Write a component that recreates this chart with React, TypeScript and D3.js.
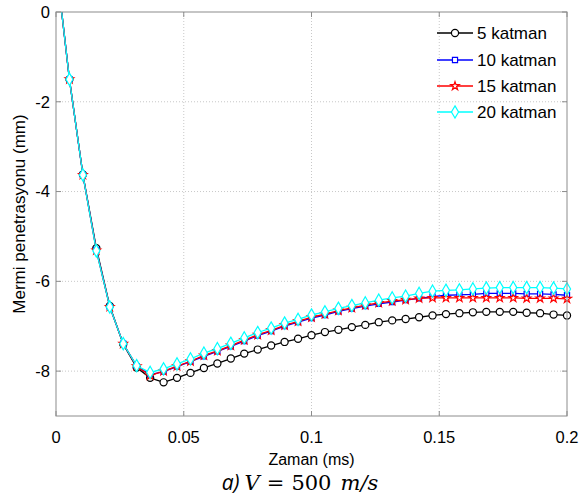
import React from "react";
import * as d3 from "d3";

const times = [0, 0.00526, 0.01053, 0.01579, 0.02105, 0.02632, 0.03158, 0.03684, 0.04211, 0.04737,
  0.05263, 0.05789, 0.06316, 0.06842, 0.07368, 0.07895, 0.08421, 0.08947, 0.09474, 0.1,
  0.10526, 0.11053, 0.11579, 0.12105, 0.12632, 0.13158, 0.13684, 0.14211, 0.14737, 0.15263,
  0.15789, 0.16316, 0.16842, 0.17368, 0.17895, 0.18421, 0.18947, 0.19474, 0.2];

const k5 = [1.1, -1.5, -3.62, -5.26, -6.55, -7.4, -7.92, -8.15, -8.25, -8.15,
  -8.04, -7.93, -7.83, -7.72, -7.61, -7.52, -7.43, -7.35, -7.28, -7.2,
  -7.13, -7.08, -7.02, -6.97, -6.91, -6.87, -6.84, -6.8, -6.76, -6.73,
  -6.71, -6.69, -6.68, -6.68, -6.68, -6.7, -6.71, -6.74, -6.76];
const k10 = [1.1, -1.5, -3.63, -5.3, -6.57, -7.39, -7.89, -8.08, -8.01, -7.9,
  -7.79, -7.67, -7.56, -7.45, -7.33, -7.21, -7.11, -7.0, -6.91, -6.82,
  -6.75, -6.67, -6.61, -6.55, -6.5, -6.46, -6.42, -6.38, -6.34, -6.31,
  -6.3, -6.29, -6.27, -6.27, -6.27, -6.28, -6.28, -6.29, -6.31];
const k15 = [1.1, -1.5, -3.63, -5.31, -6.57, -7.39, -7.89, -8.1, -8.0, -7.89,
  -7.78, -7.65, -7.55, -7.43, -7.31, -7.19, -7.09, -6.98, -6.89, -6.8,
  -6.73, -6.65, -6.59, -6.53, -6.48, -6.44, -6.41, -6.38, -6.37, -6.37,
  -6.37, -6.37, -6.37, -6.37, -6.37, -6.38, -6.38, -6.38, -6.39];
const k20 = [1.1, -1.5, -3.63, -5.32, -6.57, -7.39, -7.88, -8.03, -7.95, -7.84,
  -7.73, -7.6, -7.5, -7.38, -7.26, -7.14, -7.04, -6.93, -6.85, -6.75,
  -6.68, -6.6, -6.54, -6.48, -6.42, -6.37, -6.33, -6.27, -6.22, -6.2,
  -6.19, -6.17, -6.15, -6.14, -6.14, -6.14, -6.14, -6.15, -6.17];

const seriesNames = ["5 katman", "10 katman", "15 katman", "20 katman"];
const seriesColors = ["#000000", "#0000ff", "#ff0000", "#00ffff"];
const xTicks = [0, 0.05, 0.1, 0.15, 0.2];
const xTickLabels = ["0", "0.05", "0.1", "0.15", "0.2"];
const yTicks = [0, -2, -4, -6, -8];

const W = 587, H = 497;
const L = 56, R = 567, T = 12, B = 416;
const FONT = "'Liberation Sans', Arial, Helvetica, sans-serif";

const symbols = [d3.symbolCircle, d3.symbolSquare, d3.symbolStar, d3.symbolDiamond];
const symSizes = [40, 26, 22, 44];

export default function App() {
  const x = d3.scaleLinear().domain([0, 0.2]).range([L, R]);
  const y = d3.scaleLinear().domain([-9, 0]).range([B, T]);
  const data = [k5, k10, k15, k20];
  const line = d3.line<number>().x((_, i) => x(times[i])).y((v) => y(v));
  const gridColor = "#c8c8c8";
  const axisColor = "#8c8c8c";
  const legendRows = [33, 60, 86, 112];

  return (
    <svg width={W} height={H} style={{ position: "absolute", left: 0, top: 0, background: "#fff" }}>
      <defs>
        <clipPath id="plotclip">
          <rect x={L} y={T} width={R - L + 6} height={B - T} />
        </clipPath>
      </defs>
      <rect x={0} y={0} width={W} height={H} fill="#fff" />
      {xTicks.slice(1, -1).map((t) => (
        <line key={"gx" + t} x1={x(t)} x2={x(t)} y1={T} y2={B} stroke={gridColor} strokeWidth={1} strokeDasharray="1,2" />
      ))}
      {yTicks.slice(1).map((t) => (
        <line key={"gy" + t} x1={L} x2={R} y1={y(t)} y2={y(t)} stroke={gridColor} strokeWidth={1} strokeDasharray="1,2" />
      ))}
      {xTicks.map((t) => (
        <g key={"tx" + t}>
          <line x1={x(t)} x2={x(t)} y1={B} y2={B - 5} stroke={axisColor} />
          <line x1={x(t)} x2={x(t)} y1={T} y2={T + 5} stroke={axisColor} />
        </g>
      ))}
      {yTicks.map((t) => (
        <g key={"ty" + t}>
          <line x1={L} x2={L + 5} y1={y(t)} y2={y(t)} stroke={axisColor} />
          <line x1={R} x2={R - 5} y1={y(t)} y2={y(t)} stroke={axisColor} />
        </g>
      ))}
      <g clipPath="url(#plotclip)">
        {data.map((s, i) => (
          <g key={"s" + i}>
            <path d={line(s) || ""} fill="none" stroke={seriesColors[i]} strokeWidth={1.3} />
            {s.map((v, j) => (
              <path key={j} transform={`translate(${x(times[j])},${y(v)})`}
                d={d3.symbol().type(symbols[i]).size(symSizes[i])() || ""}
                fill="#fff" stroke={seriesColors[i]} strokeWidth={1.2} />
            ))}
          </g>
        ))}
      </g>
      <rect x={L} y={T} width={R - L} height={B - T} fill="none" stroke={axisColor} strokeWidth={1} />
      {xTicks.map((t, i) => (
        <text key={"xl" + t} x={x(t)} y={443} textAnchor="middle" fontFamily={FONT} fontSize={16.5} fill="#000">
          {xTickLabels[i]}
        </text>
      ))}
      {yTicks.map((t) => (
        <text key={"yl" + t} x={50} y={y(t)} dy="0.36em" textAnchor="end" fontFamily={FONT} fontSize={16.5} fill="#000">
          {t === 0 ? "0" : "-" + Math.abs(t)}
        </text>
      ))}
      <text x={(L + R) / 2} y={465} textAnchor="middle" fontFamily={FONT} fontSize={16} fill="#000">Zaman (ms)</text>
      <text transform={`translate(25,${(T + B) / 2}) rotate(-90)`} textAnchor="middle" fontFamily={FONT} fontSize={17} fill="#000">
        Mermi penetrasyonu (mm)
      </text>
      <text x={300} y={490} textAnchor="middle" fontSize={21} fill="#000">
        <tspan fontFamily="'Open Sans', 'Liberation Sans', sans-serif" fontStyle="italic">a)</tspan>
        <tspan fontFamily="'DejaVu Serif', 'Liberation Serif', serif" fontStyle="italic" dx="5">V</tspan>
        <tspan fontFamily="'DejaVu Serif', 'Liberation Serif', serif" dx="7">=</tspan>
        <tspan fontFamily="'DejaVu Serif', 'Liberation Serif', serif" dx="7">500</tspan>
        <tspan fontFamily="'DejaVu Serif', 'Liberation Serif', serif" fontStyle="italic" dx="9">m/s</tspan>
      </text>
      {seriesNames.map((n, i) => (
        <g key={"lg" + i}>
          <line x1={437} x2={473} y1={legendRows[i]} y2={legendRows[i]} stroke={seriesColors[i]} strokeWidth={1.3} />
          <path transform={`translate(455,${legendRows[i]})`} d={d3.symbol().type(symbols[i]).size(symSizes[i])() || ""}
            fill="#fff" stroke={seriesColors[i]} strokeWidth={1.2} />
          <text x={477} y={legendRows[i]} dy="0.36em" fontFamily={FONT} fontSize={17} fill="#000">{n}</text>
        </g>
      ))}
    </svg>
  );
}
